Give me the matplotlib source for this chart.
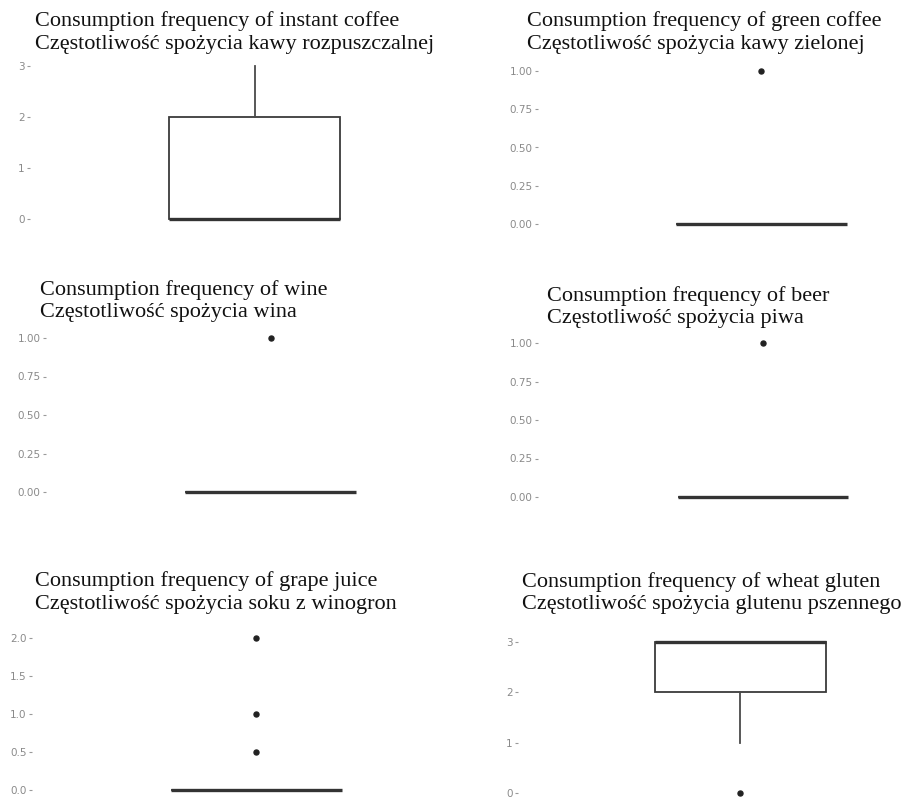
import matplotlib
matplotlib.use("Agg")
import matplotlib.pyplot as plt

# --- data ---
titles_en = ["Consumption frequency of instant coffee",
             "Consumption frequency of green coffee",
             "Consumption frequency of wine",
             "Consumption frequency of beer",
             "Consumption frequency of grape juice",
             "Consumption frequency of wheat gluten"]
titles_pl = ["Częstotliwość spożycia kawy rozpuszczalnej",
             "Częstotliwość spożycia kawy zielonej",
             "Częstotliwość spożycia wina",
             "Częstotliwość spożycia piwa",
             "Częstotliwość spożycia soku z winogron",
             "Częstotliwość spożycia glutenu pszennego"]
q1 = [0, 0, 0, 0, 0, 2]
med = [0, 0, 0, 0, 0, 3]
q3 = [2, 0, 0, 0, 0, 3]
whislo = [0, 0, 0, 0, 0, 1]
whishi = [3, 0, 0, 0, 0, 3]
fliers = [[], [1], [1], [1], [0.5, 1, 2], [0]]
yticks = [[0, 1, 2, 3],
          [0, 0.25, 0.5, 0.75, 1],
          [0, 0.25, 0.5, 0.75, 1],
          [0, 0.25, 0.5, 0.75, 1],
          [0, 0.5, 1, 1.5, 2],
          [0, 1, 2, 3]]
ytick_labels = [["0", "1", "2", "3"],
                ["0.00", "0.25", "0.50", "0.75", "1.00"],
                ["0.00", "0.25", "0.50", "0.75", "1.00"],
                ["0.00", "0.25", "0.50", "0.75", "1.00"],
                ["0.0", "0.5", "1.0", "1.5", "2.0"],
                ["0", "1", "2", "3"]]

# --- layout in pixels: axis x, box centre x, y of lowest / highest tick, title x, title y ---
W, H = 910, 798
axis_x = [30, 538, 46, 538, 32, 518]
box_cx = [255, 761, 271, 763, 256, 740]
y_lo = [219, 224, 492, 497, 790, 793]
y_hi = [66, 71, 338, 343, 638, 642]
title_x = [35, 527, 40, 547, 35, 522]
title_y = [21, 21, 290, 296, 581, 582]
box_px = 171

plt.rcParams['font.family'] = ['DejaVu Sans']
fig = plt.figure(figsize=(W / 100, H / 100), dpi=100)

for i in range(6):
    lo, hi = yticks[i][0], yticks[i][-1]
    pad = 0.05 * (hi - lo)
    scale = (y_lo[i] - y_hi[i]) / (hi - lo)
    top_px = y_hi[i] - pad * scale
    bot_px = y_lo[i] + pad * scale
    left_px = axis_x[i]
    right_px = left_px + 400
    ax = fig.add_axes([left_px / W, 1 - bot_px / H,
                       (right_px - left_px) / W, (bot_px - top_px) / H])

    stats = [dict(med=med[i], q1=q1[i], q3=q3[i], whislo=whislo[i],
                  whishi=whishi[i], fliers=fliers[i])]
    ax.bxp(stats, positions=[1], widths=0.75, showcaps=False,
           patch_artist=True,
           boxprops=dict(facecolor='white', edgecolor='#3a3a3a', linewidth=1.3),
           whiskerprops=dict(color='#4a4a4a', linewidth=1.3),
           medianprops=dict(color='#333333', linewidth=2.4, solid_capstyle='butt'),
           flierprops=dict(marker='o', markersize=3.6, markerfacecolor='#222222',
                           markeredgecolor='#222222'))

    xs = box_px / 0.75
    ax.set_xlim(1 - (box_cx[i] - left_px) / xs, 1 + (right_px - box_cx[i]) / xs)
    ax.set_ylim(lo - pad, hi + pad)
    ax.set_yticks(yticks[i])
    ax.set_yticklabels(ytick_labels[i])
    ax.set_xticks([])
    for s in ax.spines.values():
        s.set_visible(False)
    ax.tick_params(axis='y', length=2.5, width=0.8, color='#9a9a9a',
                   labelcolor='#8a8a8a', labelsize=7.5, pad=1.5)
    ax.patch.set_alpha(0)

    fig.text(title_x[i] / W, 1 - title_y[i] / H, titles_en[i],
             family='Liberation Serif', fontsize=16, color='#111111',
             ha='left', va='center')
    fig.text(title_x[i] / W, 1 - (title_y[i] + 23) / H, titles_pl[i],
             family='Liberation Serif', fontsize=16, color='#111111',
             ha='left', va='center')

fig.savefig("out.png", dpi=100)
